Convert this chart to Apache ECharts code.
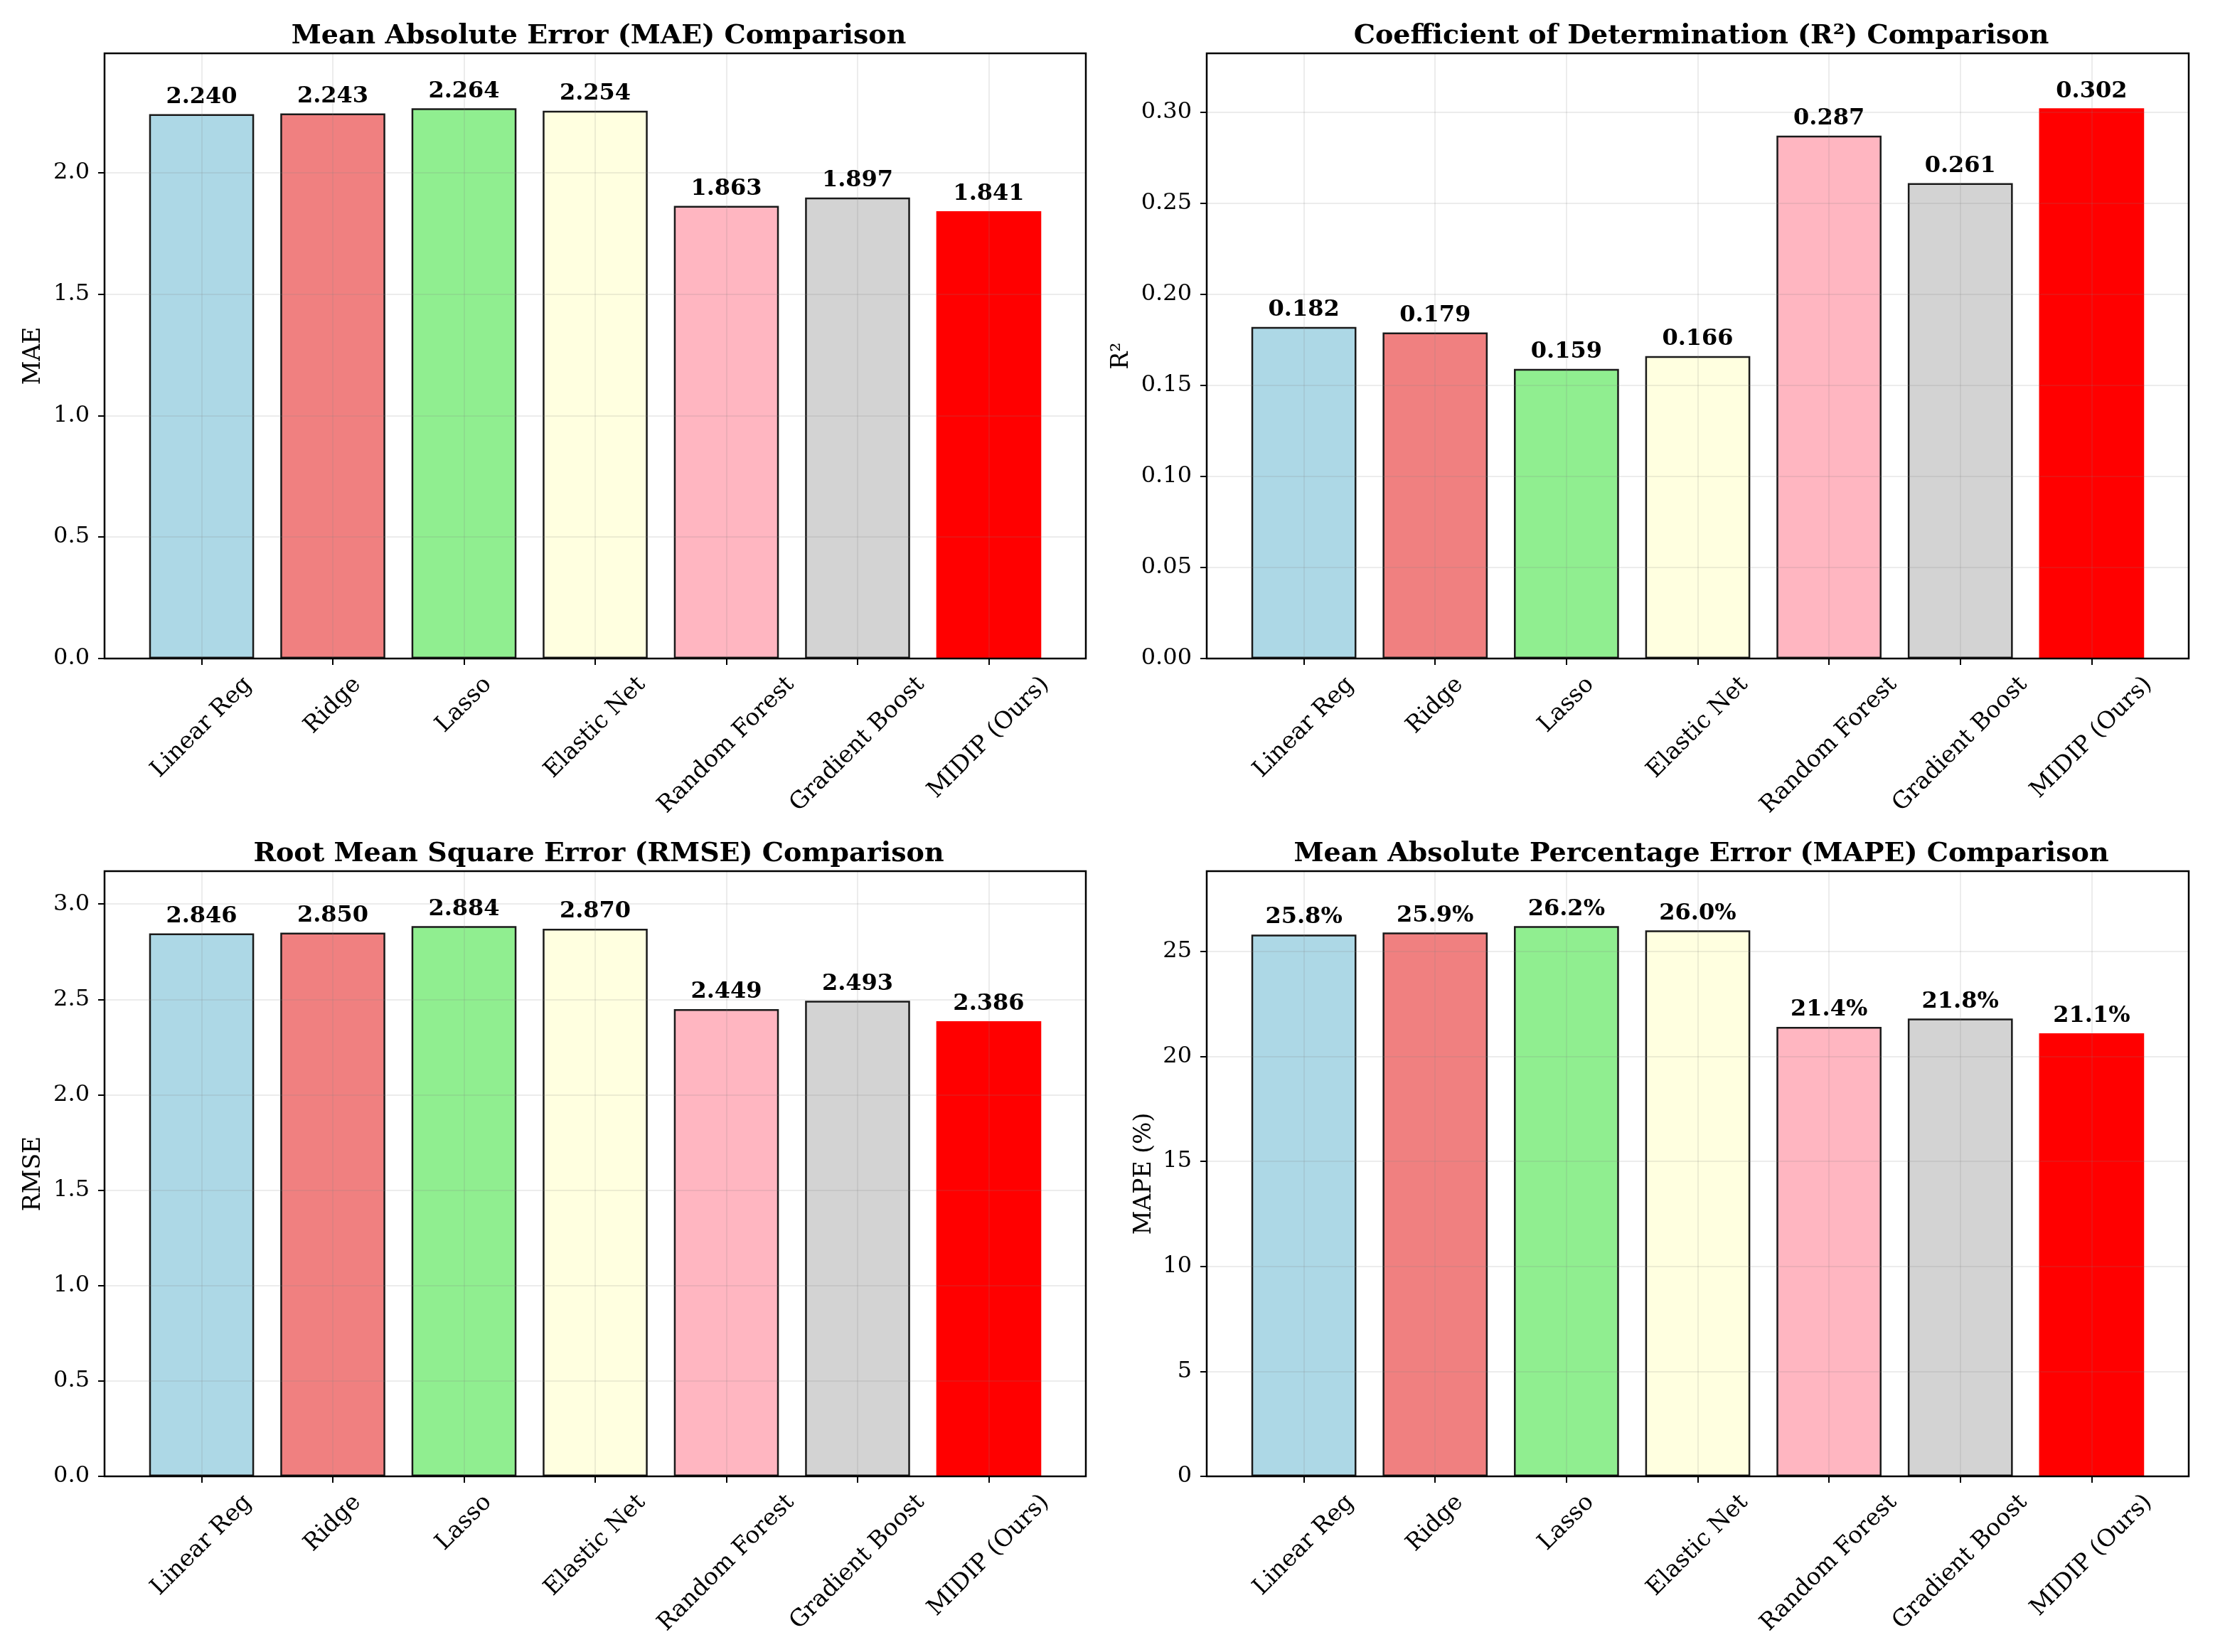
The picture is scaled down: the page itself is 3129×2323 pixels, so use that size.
<!DOCTYPE html>
<html>
<head>
<meta charset="utf-8">
<script src="https://cdn.jsdelivr.net/npm/echarts@6/dist/echarts.min.js"></script>
<style>
html,body{margin:0;padding:0;background:#fff;}
#main{width:3129px;height:2323px;}
</style>
</head>
<body>
<div id="main"></div>
<script>
// data
var models = ['Linear Reg', 'Ridge', 'Lasso', 'Elastic Net', 'Random Forest', 'Gradient Boost', 'MIDIP (Ours)'];
var maeValues = [2.240, 2.243, 2.264, 2.254, 1.863, 1.897, 1.841];
var r2Values = [0.182, 0.179, 0.159, 0.166, 0.287, 0.261, 0.302];
var rmseValues = [2.846, 2.850, 2.884, 2.870, 2.449, 2.493, 2.386];
var mapeValues = [25.8, 25.9, 26.2, 26.0, 21.4, 21.8, 21.1];
var barColors = ['#ADD8E6', '#F08080', '#90EE90', '#FFFFE0', '#FFB6C1', '#D3D3D3', '#FF0000'];

var maeTicks = [0, 0.5, 1.0, 1.5, 2.0];
var r2Ticks = [0, 0.05, 0.10, 0.15, 0.20, 0.25, 0.30];
var rmseTicks = [0, 0.5, 1.0, 1.5, 2.0, 2.5, 3.0];
var mapeTicks = [0, 5, 10, 15, 20, 25];

var FONT = 'DejaVu Serif';
var ctx = document.createElement('canvas').getContext('2d');
function textWidth(str, size, weight) {
  ctx.font = (weight || 'normal') + ' ' + size + 'px "' + FONT + '"';
  return ctx.measureText(str).width;
}

var panels = [
  {title: 'Mean Absolute Error (MAE) Comparison', yName: 'MAE', values: maeValues, ticks: maeTicks,
   tickFmt: function (v) { return v.toFixed(1); }, valFmt: function (v) { return v.toFixed(3); },
   left: 147, top: 75, width: 1380, nameGap: 83, titleTop: 27},
  {title: 'Coefficient of Determination (R\u00b2) Comparison', yName: 'R\u00b2', values: r2Values, ticks: r2Ticks,
   tickFmt: function (v) { return v.toFixed(2); }, valFmt: function (v) { return v.toFixed(3); },
   left: 1697, top: 75, width: 1381, nameGap: 103, titleTop: 27},
  {title: 'Root Mean Square Error (RMSE) Comparison', yName: 'RMSE', values: rmseValues, ticks: rmseTicks,
   tickFmt: function (v) { return v.toFixed(1); }, valFmt: function (v) { return v.toFixed(3); },
   left: 147, top: 1225, width: 1380, nameGap: 83, titleTop: 1177},
  {title: 'Mean Absolute Percentage Error (MAPE) Comparison', yName: 'MAPE (%)', values: mapeValues, ticks: mapeTicks,
   tickFmt: function (v) { return String(v); }, valFmt: function (v) { return v.toFixed(1) + '%'; },
   left: 1697, top: 1225, width: 1381, nameGap: 71, titleTop: 1177}
];

var PLOT_H = 851;
var CAT_SIZE = 33;
var TICK_SIZE = 32;
var VAL_SIZE = 32;
var TITLE_SIZE = 38;
var LABEL_MARGIN = 10;
var gridLine = {color: 'rgba(128,128,128,0.2)', width: 1.5};
var tickLine = {color: '#000', width: 2};

// rotated category labels: centre each label under its tick like matplotlib does
var rich = {};
models.forEach(function (m, i) {
  var L = textWidth(m, CAT_SIZE);
  var d = 20 + 0.3535 * (L + CAT_SIZE) - LABEL_MARGIN;
  var p = 1.414 * d;
  rich['c' + i] = {padding: [p, p, 0, 0], fontSize: CAT_SIZE, fontFamily: FONT, color: '#000'};
});

var option = {backgroundColor: '#fff', animation: false, title: [], grid: [], xAxis: [], yAxis: [], series: []};

panels.forEach(function (p, k) {
  var ymax = Math.max.apply(null, p.values) * 1.1;
  var unit = p.width / 7.48;
  var fi = 2 * k, di = 2 * k + 1;

  option.title.push({
    text: p.title,
    left: p.left + p.width / 2 - textWidth(p.title, TITLE_SIZE, 'bold') / 2,
    top: p.titleTop,
    textStyle: {fontFamily: FONT, fontWeight: 'bold', fontSize: TITLE_SIZE, color: '#000'}
  });

  // frame grid: border, y ticks, horizontal grid lines
  option.grid.push({left: p.left, top: p.top, width: p.width, height: PLOT_H, show: true,
    borderColor: '#000', borderWidth: 2.5, backgroundColor: 'transparent', z: 10});
  // data grid: bars across matplotlib's x range
  option.grid.push({left: p.left + 0.24 * unit, top: p.top, width: 7 * unit, height: PLOT_H});

  option.xAxis.push({gridIndex: fi, type: 'value', min: 0, max: 1, show: false});
  option.yAxis.push({
    gridIndex: fi, type: 'value', min: 0, max: ymax, z: 3,
    axisLine: {show: false},
    axisTick: {show: true, length: 9, lineStyle: tickLine, customValues: p.ticks},
    axisLabel: {margin: 21, fontSize: TICK_SIZE, fontFamily: FONT, color: '#000',
      customValues: p.ticks, formatter: p.tickFmt},
    splitLine: {show: true, lineStyle: gridLine},
    name: p.yName, nameLocation: 'middle', nameRotate: 90, nameGap: p.nameGap,
    nameTextStyle: {fontFamily: FONT, fontWeight: 'normal', fontSize: 33, color: '#000'}
  });

  option.xAxis.push({
    gridIndex: di, type: 'category', data: models, z: 3,
    axisLine: {show: false},
    axisTick: {show: true, alignWithLabel: true, length: 9, lineStyle: tickLine},
    splitLine: {show: true, alignWithLabel: true, interval: 0, lineStyle: gridLine},
    axisLabel: {interval: 0, rotate: 45, align: 'center', verticalAlign: 'middle', margin: LABEL_MARGIN,
      formatter: function (v, i) { return '{c' + i + '|' + v + '}'; }, rich: rich}
  });
  option.yAxis.push({gridIndex: di, type: 'value', min: 0, max: ymax, show: false});

  option.series.push({
    type: 'bar', xAxisIndex: di, yAxisIndex: di, barWidth: '80%',
    data: p.values.map(function (v, j) {
      var last = j === p.values.length - 1;
      return {value: v, itemStyle: {color: barColors[j],
        borderColor: last ? barColors[j] : '#1a1a1a', borderWidth: last ? 0 : 2.5}};
    }),
    label: {show: true, position: 'top', distance: 8, fontFamily: FONT, fontWeight: 'bold',
      fontSize: VAL_SIZE, color: '#000', formatter: function (o) { return p.valFmt(o.value); }}
  });
});

var chart = echarts.init(document.getElementById('main'));
chart.setOption(option);
</script>
</body>
</html>
